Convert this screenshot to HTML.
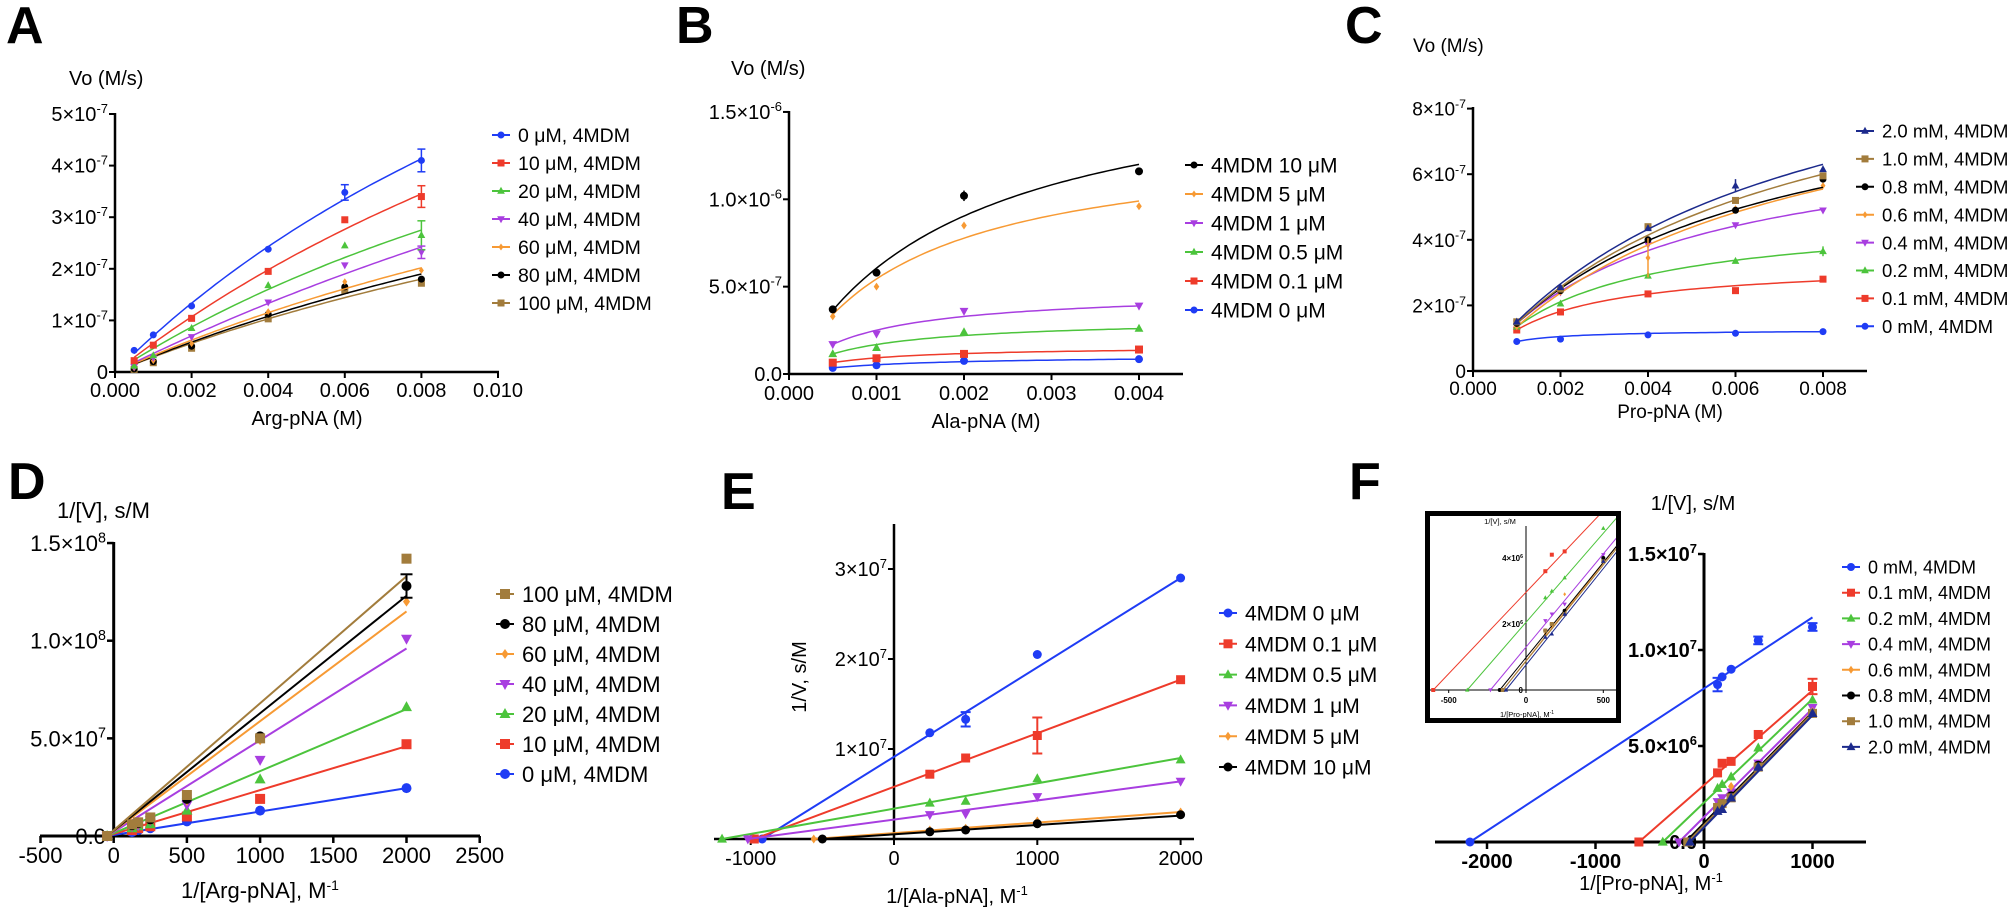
<!DOCTYPE html>
<html><head><meta charset="utf-8"><style>
html,body{margin:0;padding:0;background:#fff;}
svg{display:block;font-family:"Liberation Sans",Arial,sans-serif;}
</style></head><body>
<svg id="s" width="2007" height="914" viewBox="0 0 2007 914" xmlns="http://www.w3.org/2000/svg">
<defs><clipPath id="ins"><rect x="1430" y="516" width="186" height="202"/></clipPath></defs>
<g font-weight="bold" font-size="52">
<text x="6" y="43">A</text><text x="676" y="43">B</text><text x="1345" y="43">C</text>
<text x="8" y="499">D</text><text x="721" y="509">E</text><text x="1349" y="499">F</text>
</g>
</svg>
<script>
var S=document.getElementById('s'),out='';
function a(s){out+=s;}
var C={blue:'#1f3cf5',red:'#ee3b2b',green:'#4cc43c',purple:'#a83ee0',orange:'#f79a34',black:'#000',brown:'#a27c3c',navy:'#1c2a8c'};
var MK={blue:'c',red:'s',green:'t',purple:'v',orange:'d',black:'c',brown:'s',navy:'t'};
function mk(t,x,y,col,r){
 if(t=='c')a('<circle cx="'+x+'" cy="'+y+'" r="'+r+'" fill="'+col+'"/>');
 else if(t=='s')a('<rect x="'+(x-r)+'" y="'+(y-r)+'" width="'+2*r+'" height="'+2*r+'" fill="'+col+'"/>');
 else if(t=='t')a('<polygon points="'+x+','+(y-r*1.2)+' '+(x-r*1.1)+','+(y+r*0.8)+' '+(x+r*1.1)+','+(y+r*0.8)+'" fill="'+col+'"/>');
 else if(t=='v')a('<polygon points="'+x+','+(y+r*1.2)+' '+(x-r*1.1)+','+(y-r*0.8)+' '+(x+r*1.1)+','+(y-r*0.8)+'" fill="'+col+'"/>');
 else a('<polygon points="'+x+','+(y-r)+' '+(x+r*0.7)+','+y+' '+x+','+(y+r)+' '+(x-r*0.7)+','+y+'" fill="'+col+'"/>');
}
function txt(x,y,s,fs,anc,extra){a('<text x="'+x+'" y="'+y+'" font-size="'+fs+'" text-anchor="'+(anc||'start')+'" '+(extra||'')+'>'+s+'</text>');}
function sci(m,e,fs){return m+'×10<tspan dy="-'+(fs*0.4)+'" font-size="'+(fs*0.65)+'">'+e+'</tspan>';}
function line(x1,y1,x2,y2,col,w){a('<line x1="'+x1+'" y1="'+y1+'" x2="'+x2+'" y2="'+y2+'" stroke="'+col+'" stroke-width="'+w+'"/>');}
function poly(pts,col,w){a('<polyline fill="none" stroke="'+col+'" stroke-width="'+w+'" points="'+pts.map(function(p){return p[0].toFixed(1)+','+p[1].toFixed(1)}).join(' ')+'"/>');}
function legend(x,y0,dy,items,fs,r){items.forEach(function(it,i){var y=y0+dy*i;line(x-9,y,x+9,y,C[it[0]],2);mk(MK[it[0]],x,y,C[it[0]],r);txt(x+17,y+fs*0.36,it[1],fs);});}
function mm(x1,a1,x2,b){var K=(b-a1)/(a1/x1-b/x2);var V=a1*(K+x1)/x1;return function(x){return V*x/(K+x);};}
function curvePanel(X,Y,xs,x1,x2,sets,r,sc){
 sets.forEach(function(s){var f=mm(s[2],s[3],s[4],s[5]);var pts=[];for(var i=0;i<=60;i++){var x=s[2]+(s[4]-s[2])*i/60;pts.push([X(x),Y(f(x)*sc)]);}
  poly(pts,C[s[0]],1.5);
  s[1].forEach(function(v,i){mk(MK[s[0]],X(xs[i]),Y(v*sc),C[s[0]],r);});
 });
}
// ---------- A ----------
(function(){
 var X=function(v){return 115+v*38300},Y=function(v){return 372-v/1e-7*51.6};
 line(115,113,115,373,'#000',2.5);line(114,372,499,372,'#000',2.5);
 for(var i=0;i<=5;i++){var y=Y(i*1e-7);line(109,y,115,y,'#000',2);txt(108,y+7,i?sci(i,'-7',20):'0',20,'end');}
 for(var i=0;i<=5;i++){var x=X(i*0.002);line(x,372,x,378,'#000',2);txt(x,397,(i*0.002).toFixed(3),20,'middle');}
 txt(69,85,'Vo (M/s)',20);txt(307,425,'Arg-pNA (M)',20,'middle');
 var xs=[0.0005,0.001,0.002,0.004,0.006,0.008];
 var sets=[['brown',[0.05,0.18,0.46,1.03,1.58,1.72],0.004,1.03,0.008,1.8],
 ['black',[0.06,0.2,0.5,1.12,1.65,1.8],0.004,1.08,0.008,1.9],
 ['orange',[0.08,0.22,0.55,1.17,1.75,1.97],0.004,1.15,0.008,2.02],
 ['purple',[0.1,0.28,0.68,1.35,2.07,2.32],0.004,1.33,0.008,2.42],
 ['green',[0.12,0.32,0.85,1.68,2.45,2.65],0.004,1.6,0.008,2.75],
 ['red',[0.22,0.52,1.04,1.95,2.95,3.4],0.004,1.98,0.008,3.45],
 ['blue',[0.42,0.72,1.28,2.38,3.48,4.1],0.004,2.43,0.008,4.13]];
 sets.forEach(function(s){s[2]=0.0005;var f=mm(0.004,s[3],0.008,s[5]);s[3]=f(0.0005);});
 curvePanel(X,Y,xs,0,0,sets,3.5,1e-7);
 [[0.008,4.1,0.22,'blue'],[0.006,3.48,0.15,'blue'],[0.008,3.4,0.21,'red'],[0.008,2.65,0.28,'green'],[0.008,2.32,0.12,'purple']].forEach(function(e){var x=X(e[0]);line(x,Y(e[1]*1e-7+e[2]*1e-7),x,Y(e[1]*1e-7-e[2]*1e-7),C[e[3]],1.5);line(x-4,Y((e[1]+e[2])*1e-7),x+4,Y((e[1]+e[2])*1e-7),C[e[3]],1.5);line(x-4,Y((e[1]-e[2])*1e-7),x+4,Y((e[1]-e[2])*1e-7),C[e[3]],1.5);});
 legend(501,135,28,[['blue','0 μM, 4MDM'],['red','10 μM, 4MDM'],['green','20 μM, 4MDM'],['purple','40 μM, 4MDM'],['orange','60 μM, 4MDM'],['black','80 μM, 4MDM'],['brown','100 μM, 4MDM']],19.5,3.5);
})();
// ---------- B ----------
(function(){
 var X=function(v){return 789+v*87500},Y=function(v){return 374-v/1e-7*17.47};
 line(789,111,789,375,'#000',2.5);line(788,374,1183,374,'#000',2.5);
 [[0,'0.0'],[5e-7,sci('5.0','-7',20)],[1e-6,sci('1.0','-6',20)],[1.5e-6,sci('1.5','-6',20)]].forEach(function(t){var y=Y(t[0]);line(783,y,789,y,'#000',2);txt(782,y+7,t[1],20,'end');});
 for(var i=0;i<=4;i++){var x=X(i*0.001);line(x,374,x,380,'#000',2);txt(x,400,(i*0.001).toFixed(3),20,'middle');}
 txt(731,75,'Vo (M/s)',20);txt(986,428,'Ala-pNA (M)',20,'middle');
 var xs=[0.0005,0.001,0.002,0.004];
 var sets=[['blue',[0.35,0.5,0.75,0.85],0.0005,0.35,0.004,0.85],
 ['red',[0.65,0.9,1.15,1.4],0.0005,0.65,0.004,1.35],
 ['green',[1.15,1.5,2.4,2.6],0.0005,1.15,0.004,2.6],
 ['purple',[1.7,2.3,3.6,3.9],0.0005,1.7,0.004,3.9],
 ['orange',[3.3,5.0,8.5,9.6],0.0005,3.4,0.004,9.9],
 ['black',[3.7,5.8,10.2,11.6],0.0005,3.65,0.004,12.0]];
 curvePanel(X,Y,xs,0,0,sets,4,1e-7);
 var x=X(0.002);line(x,Y(10.5e-7),x,Y(9.9e-7),'#000',1.5);
 legend(1194,165,29,[['black','4MDM 10 μM'],['orange','4MDM 5 μM'],['purple','4MDM 1 μM'],['green','4MDM 0.5 μM'],['red','4MDM 0.1 μM'],['blue','4MDM 0 μM']],21,3.5);
})();
// ---------- C ----------
(function(){
 var X=function(v){return 1473+v*43750},Y=function(v){return 371-v/1e-7*32.8};
 line(1473,107,1473,372,'#000',2.5);line(1472,371,1867,371,'#000',2.5);
 for(var i=0;i<=4;i++){var y=Y(i*2e-7);line(1467,y,1473,y,'#000',2);txt(1466,y+7,i?sci(2*i,'-7',19):'0',19,'end');}
 for(var i=0;i<=4;i++){var x=X(i*0.002);line(x,371,x,377,'#000',2);txt(x,395,(i*0.002).toFixed(3),19,'middle');}
 txt(1413,52,'Vo (M/s)',19);txt(1670,418,'Pro-pNA (M)',19,'middle');
 var xs=[0.001,0.002,0.004,0.006,0.008];
 var sets=[['blue',[0.9,0.97,1.1,1.15,1.2],0.001,0.9,0.008,1.2],
 ['red',[1.25,1.8,2.35,2.45,2.8],0.001,1.25,0.008,2.75],
 ['green',[1.35,2.05,2.9,3.35,3.65],0.001,1.35,0.008,3.65],
 ['purple',[1.45,2.4,3.85,4.45,4.9],0.001,1.45,0.008,4.93],
 ['orange',[1.35,2.4,3.45,4.95,5.65],0.001,1.35,0.008,5.55],
 ['black',[1.45,2.45,4.0,4.9,5.85],0.001,1.45,0.008,5.6],
 ['brown',[1.5,2.5,4.4,5.2,5.95],0.001,1.45,0.008,6.0],
 ['navy',[1.5,2.55,4.35,5.65,6.15],0.001,1.5,0.008,6.3]];
 curvePanel(X,Y,xs,0,0,sets,3.5,1e-7);
 [[0.004,3.45,0.6,'orange'],[0.006,5.65,0.2,'navy'],[0.008,3.65,0.15,'green']].forEach(function(e){var x=X(e[0]);line(x,Y((e[1]+e[2])*1e-7),x,Y((e[1]-e[2])*1e-7),C[e[3]],1.5);});
 legend(1865,131,27.9,[['navy','2.0 mM, 4MDM'],['brown','1.0 mM, 4MDM'],['black','0.8 mM, 4MDM'],['orange','0.6 mM, 4MDM'],['purple','0.4 mM, 4MDM'],['green','0.2 mM, 4MDM'],['red','0.1 mM, 4MDM'],['blue','0 mM, 4MDM']],18.5,3.5);
})();
// ---------- D ----------
(function(){
 var X=function(v){return 113.7+v*0.1464},Y=function(v){return 836-v/1e7*19.53};
 line(113.7,542,113.7,837,'#000',3);line(40,836,480,836,'#000',3);
 [[0,'0.0'],[5e7,sci('5.0','7',22)],[1e8,sci('1.0','8',22)],[1.5e8,sci('1.5','8',22)]].forEach(function(t){var y=Y(t[0]);line(107,y,113.7,y,'#000',2.5);txt(106,y+8,t[1],22,'end');});
 for(var i=-1;i<=5;i++){var x=X(i*500);line(x,836,x,843,'#000',2.5);txt(x,863,String(i*500),22,'middle');}
 txt(57,518,'1/[V], s/M',22);txt(260,898,'1/[Arg-pNA], M<tspan dy="-8" font-size="14">-1</tspan>',22,'middle');
 var xs=[-45,125,167,250,500,1000,2000];
 var sets=[['blue',[0,0.2,0.3,0.4,0.75,1.3,2.45],2.45],['red',[0,0.3,0.4,0.5,1.0,1.9,4.7],4.6],['green',[0,0.4,0.5,0.6,1.3,2.9,6.6],6.5],['purple',[0,0.5,0.55,0.8,1.6,3.9,10.1],9.6],['orange',[0,0.5,0.6,0.8,1.8,4.9,12.0],11.5],['black',[0,0.55,0.65,0.85,1.9,5.1,12.8],12.3],['brown',[0,0.6,0.7,0.95,2.1,5.0,14.2],13.3]];
 sets.forEach(function(s){line(X(-45),Y(0),X(2000),Y(s[2]*1e7),C[s[0]],2);s[1].forEach(function(v,i){mk(MK[s[0]],X(xs[i]),Y(v*1e7),C[s[0]],5);});});
 var x=X(2000);line(x,Y(1.34e8),x,Y(1.22e8),'#000',2);line(x-6,Y(1.34e8),x+6,Y(1.34e8),'#000',2);line(x-6,Y(1.22e8),x+6,Y(1.22e8),'#000',2);
 legend(505,594,30,[['brown','100 μM, 4MDM'],['black','80 μM, 4MDM'],['orange','60 μM, 4MDM'],['purple','40 μM, 4MDM'],['green','20 μM, 4MDM'],['red','10 μM, 4MDM'],['blue','0 μM, 4MDM']],22,5);
})();
// ---------- E ----------
(function(){
 var X=function(v){return 894+v*0.1433},Y=function(v){return 839-v/1e7*90};
 line(894,524,894,840,'#000',2.5);line(714,839,1194,839,'#000',2.5);
 for(var i=1;i<=3;i++){var y=Y(i*1e7);line(888,y,894,y,'#000',2);txt(887,y+7,sci(i,'7',20),20,'end');}
 for(var i=-1;i<=2;i++){var x=X(i*1000);line(x,839,x,845,'#000',2);txt(x,865,String(i*1000),20,'middle');}
 txt(957,903,'1/[Ala-pNA], M<tspan dy="-8" font-size="13">-1</tspan>',20,'middle');
 txt(806,677,'1/V, s/M',20,'middle','transform="rotate(-90 806 677)"');
 var xs=[250,500,1000,2000];
 var sets=[['blue',[1.18,1.33,2.05,2.9],-920,2.9],['red',[0.72,0.9,1.15,1.77],-975,1.77],['green',[0.4,0.42,0.67,0.88],-1200,0.9],['purple',[0.27,0.28,0.47,0.64],-1020,0.64],['orange',[0.1,0.12,0.2,0.3],-560,0.3],['black',[0.08,0.1,0.17,0.27],-500,0.26]];
 sets.forEach(function(s){line(X(s[2]),Y(0),X(2000),Y(s[3]*1e7),C[s[0]],2);mk(MK[s[0]],X(s[2]),Y(0),C[s[0]],4.5);s[1].forEach(function(v,i){mk(MK[s[0]],X(xs[i]),Y(v*1e7),C[s[0]],4.5);});});
 [[500,1.33,0.08,'blue'],[1000,1.15,0.2,'red']].forEach(function(e){var x=X(e[0]),y1=Y((e[1]+e[2])*1e7),y2=Y((e[1]-e[2])*1e7);line(x,y1,x,y2,C[e[3]],2);line(x-5,y1,x+5,y1,C[e[3]],2);line(x-5,y2,x+5,y2,C[e[3]],2);});
 legend(1228,613,30.8,[['blue','4MDM 0 μM'],['red','4MDM 0.1 μM'],['green','4MDM 0.5 μM'],['purple','4MDM 1 μM'],['orange','4MDM 5 μM'],['black','4MDM 10 μM']],21,4.5);
})();
// ---------- F ----------
(function(){
 var X=function(v){return 1704+v*0.1085},Y=function(v){return 842-v/1e6*19.2};
 line(1704,553,1704,843,'#000',3);line(1435,842,1866,842,'#000',3);
 [[0,'0.0'],[5e6,sci('5.0','6',20)],[1e7,sci('1.0','7',20)],[1.5e7,sci('1.5','7',20)]].forEach(function(t){var y=Y(t[0]);line(1698,y,1704,y,'#000',2.5);txt(1697,y+7,t[1],20,'end','font-weight="bold"');});
 for(var i=-2;i<=1;i++){var x=X(i*1000);line(x,842,x,849,'#000',2.5);txt(x,868,String(i*1000),20,'middle','font-weight="bold"');}
 txt(1693,510,'1/[V], s/M',20,'middle');txt(1651,890,'1/[Pro-pNA], M<tspan dy="-8" font-size="13">-1</tspan>',20,'middle');
 var xs=[125,167,250,500,1000];
 var sets=[['blue',[8.2,8.6,9.0,10.5,11.2],-2157,11.7],['red',[3.6,4.1,4.2,5.6,8.1],-600,7.9],['green',[2.8,3.0,3.4,4.9,7.4],-380,7.45],['purple',[2.1,2.3,2.6,4.1,7.0],-230,6.95],['orange',[1.7,1.9,2.9,4.0,6.8],-150,6.8],['black',[1.8,2.0,2.4,4.0,6.7],-170,6.75],['brown',[1.8,2.0,2.3,3.9,6.7],-150,6.7],['navy',[1.6,1.7,2.3,3.9,6.7],-130,6.6]];
 sets.forEach(function(s){line(X(s[2]),Y(0),X(1000),Y(s[3]*1e6),C[s[0]],2);mk(MK[s[0]],X(s[2]),Y(0),C[s[0]],4.5);s[1].forEach(function(v,i){mk(MK[s[0]],X(xs[i]),Y(v*1e6),C[s[0]],4.5);});});
 [[125,8.2,0.35,'blue'],[1000,8.1,0.4,'red'],[500,10.5,0.2,'blue'],[1000,11.2,0.2,'blue']].forEach(function(e){var x=X(e[0]),y1=Y((e[1]+e[2])*1e6),y2=Y((e[1]-e[2])*1e6);line(x,y1,x,y2,C[e[3]],2);line(x-5,y1,x+5,y1,C[e[3]],2);line(x-5,y2,x+5,y2,C[e[3]],2);});
 legend(1851,567,25.7,[['blue','0 mM, 4MDM'],['red','0.1 mM, 4MDM'],['green','0.2 mM, 4MDM'],['purple','0.4 mM, 4MDM'],['orange','0.6 mM, 4MDM'],['black','0.8 mM, 4MDM'],['brown','1.0 mM, 4MDM'],['navy','2.0 mM, 4MDM']],18,4);
 // inset
 a('<rect x="1427.5" y="513.5" width="191" height="207" fill="#fff" stroke="#000" stroke-width="5"/>');
 var Xi=function(v){return 1526+v*0.1546},Yi=function(v){return 690-v/1e6*33};
 line(1526,526,1526,691,'#000',1);line(1430,690,1616,690,'#000',1);
 [-500,0,500].forEach(function(v){line(Xi(v),690,Xi(v),693,'#000',1);txt(Xi(v),703,String(v),8,'middle','font-weight="bold"');});
 txt(1523,693,'0',8,'end','font-weight="bold"');txt(1523,627,sci(2,'6',8),8,'end','font-weight="bold"');txt(1523,561,sci(4,'6',8),8,'end','font-weight="bold"');
 txt(1500,524,'1/[V], s/M',7.5,'middle');txt(1527,717,'1/[Pro-pNA], M<tspan dy="-3" font-size="5">-1</tspan>',7.5,'middle');
 a('<g clip-path="url(#ins)">');
 sets.slice(1).forEach(function(s){var sl=s[3]/(1000-s[2]);line(Xi(s[2]),Yi(0),Xi(600),Yi(sl*(600-s[2])*1e6),C[s[0]],1);mk(MK[s[0]],Xi(s[2]),Yi(0),C[s[0]],2);s[1].forEach(function(v,i){if(xs[i]<=500)mk(MK[s[0]],Xi(xs[i]),Yi(v*1e6),C[s[0]],2);});});
 a('</g>');
})();
S.insertAdjacentHTML('beforeend',out);
</script>
</body></html>
